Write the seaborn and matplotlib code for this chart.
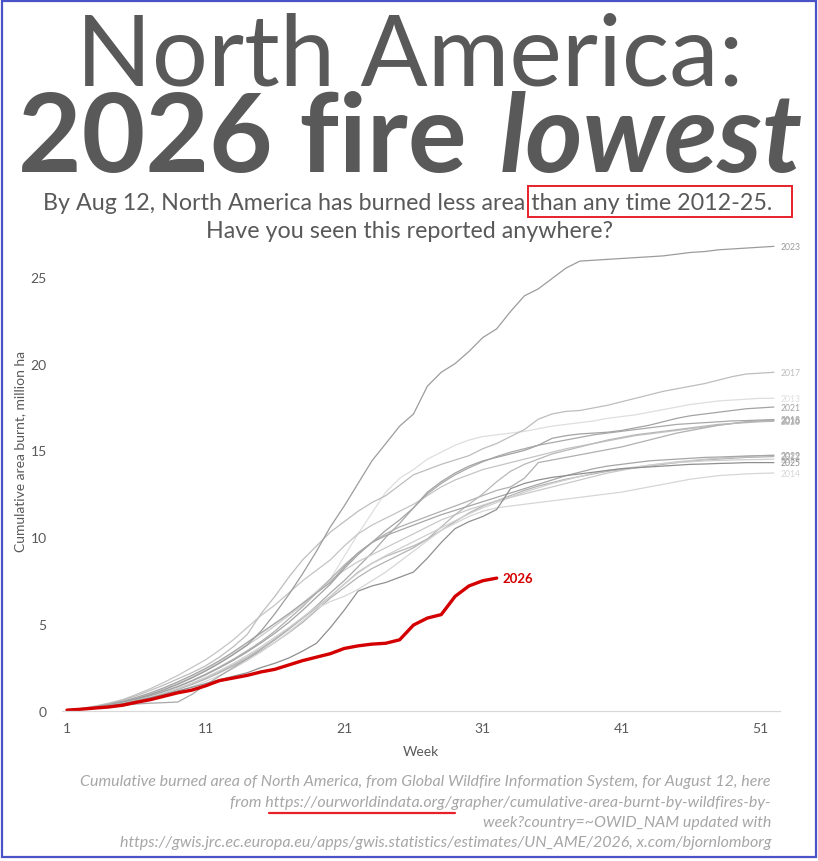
import matplotlib
matplotlib.use("Agg")
import matplotlib.pyplot as plt
import pandas as pd
import seaborn as sns
from matplotlib.patches import Rectangle
from matplotlib.lines import Line2D

# ---------------------------------------------------------------- data
weeks = list(range(1, 53))

area_2012 = [0.04, 0.1, 0.18, 0.29, 0.42, 0.58, 0.77, 0.99, 1.24, 1.52, 1.84, 2.2, 2.6, 3.0, 3.45, 3.95, 4.5, 5.1, 5.8, 6.5,
             7.1, 7.7, 8.2, 8.6, 9.0, 9.4, 9.9, 10.4, 10.9, 11.4, 11.8, 12.1, 12.4, 12.7, 12.95, 13.15, 13.35, 13.5, 13.65, 13.8,
             13.9, 14.0, 14.1, 14.2, 14.3, 14.38, 14.45, 14.5, 14.55, 14.6, 14.62, 14.65]
area_2013 = [0.05, 0.12, 0.22, 0.36, 0.54, 0.76, 1.02, 1.32, 1.65, 2.0, 2.4, 2.85, 3.35, 3.9, 4.45, 5.0, 5.6, 6.2, 6.9, 7.6,
             8.9, 10.2, 11.4, 12.6, 13.4, 13.9, 14.5, 14.9, 15.3, 15.6, 15.8, 15.9, 16.0, 16.1, 16.25, 16.4, 16.5, 16.6, 16.7, 16.85,
             16.95, 17.05, 17.2, 17.35, 17.5, 17.65, 17.75, 17.85, 17.9, 17.95, 18.0, 18.0]
area_2014 = [0.03, 0.08, 0.15, 0.25, 0.37, 0.52, 0.7, 0.9, 1.13, 1.4, 1.7, 2.05, 2.45, 2.9, 3.4, 3.95, 4.55, 5.2, 5.9, 6.3,
             6.6, 7.0, 7.5, 8.0, 8.6, 9.2, 9.8, 10.4, 10.8, 11.2, 11.5, 11.7, 11.8, 11.9, 12.0, 12.1, 12.2, 12.3, 12.4, 12.5,
             12.6, 12.75, 12.9, 13.05, 13.2, 13.35, 13.45, 13.55, 13.6, 13.65, 13.68, 13.7]
area_2015 = [0.06, 0.15, 0.28, 0.45, 0.65, 0.95, 1.28, 1.65, 2.05, 2.5, 2.95, 3.5, 4.1, 4.8, 5.5, 6.1, 6.8, 7.5, 8.1, 8.7,
             9.5, 10.2, 10.7, 11.1, 11.5, 11.9, 12.4, 12.9, 13.3, 13.6, 13.9, 14.1, 14.3, 14.5, 14.7, 14.9, 15.1, 15.25, 15.4, 15.55,
             15.7, 15.85, 15.95, 16.05, 16.15, 16.25, 16.35, 16.45, 16.55, 16.65, 16.7, 16.75]
area_2016 = [0.05, 0.12, 0.21, 0.33, 0.48, 0.66, 0.88, 1.13, 1.42, 1.75, 2.12, 2.53, 2.98, 3.47, 4.0, 4.6, 5.3, 6.0, 6.8, 7.6,
             8.4, 9.1, 9.7, 10.2, 10.6, 10.9, 11.2, 11.5, 11.8, 12.1, 12.4, 12.7, 12.9, 13.4, 14.3, 14.45, 14.6, 14.75, 14.9, 15.05,
             15.2, 15.4, 15.6, 15.8, 16.0, 16.15, 16.3, 16.45, 16.55, 16.65, 16.7, 16.72]
area_2017 = [0.06, 0.14, 0.26, 0.42, 0.62, 0.88, 1.18, 1.5, 1.85, 2.2, 2.6, 3.1, 3.7, 4.4, 5.6, 6.6, 7.7, 8.7, 9.5, 10.3,
             10.9, 11.5, 12.0, 12.4, 13.0, 13.6, 13.9, 14.2, 14.45, 14.7, 15.1, 15.4, 15.8, 16.2, 16.8, 17.1, 17.25, 17.3, 17.45, 17.6,
             17.8, 18.0, 18.2, 18.4, 18.55, 18.7, 18.85, 19.05, 19.25, 19.4, 19.45, 19.5]
area_2018 = [0.03, 0.09, 0.17, 0.26, 0.34, 0.4, 0.45, 0.48, 0.52, 0.95, 1.5, 2.0, 2.5, 3.0, 3.55, 4.1, 4.7, 5.35, 6.05, 6.8,
             7.5, 8.3, 9.1, 10.0, 10.8, 11.7, 12.5, 13.1, 13.6, 14.0, 14.35, 14.65, 14.9, 15.1, 15.3, 15.45, 15.6, 15.75, 15.9, 16.0,
             16.1, 16.2, 16.3, 16.4, 16.5, 16.55, 16.6, 16.65, 16.7, 16.72, 16.75, 16.78]
area_2019 = [0.05, 0.12, 0.22, 0.35, 0.52, 0.73, 0.98, 1.26, 1.58, 1.94, 2.34, 2.78, 3.26, 3.78, 4.32, 4.9, 5.5, 6.1, 6.8, 7.5,
             8.1, 8.6, 9.0, 9.4, 9.8, 10.2, 10.6, 11.0, 11.3, 11.6, 11.85, 12.1, 12.3, 12.5, 12.7, 12.9, 13.1, 13.3, 13.5, 13.7,
             13.85, 14.0, 14.15, 14.25, 14.35, 14.42, 14.5, 14.55, 14.6, 14.65, 14.7, 14.72]
area_2020 = [0.04, 0.1, 0.18, 0.29, 0.43, 0.6, 0.8, 1.03, 1.29, 1.58, 1.9, 2.26, 2.66, 3.1, 3.6, 4.15, 4.75, 5.35, 5.95, 6.6,
             7.3, 8.0, 8.5, 8.9, 9.2, 9.5, 9.9, 10.6, 11.3, 11.9, 12.5, 13.2, 13.8, 14.2, 14.5, 14.8, 15.0, 15.2, 15.4, 15.6,
             15.75, 15.9, 16.0, 16.1, 16.2, 16.3, 16.4, 16.5, 16.55, 16.6, 16.65, 16.68]
area_2021 = [0.04, 0.11, 0.2, 0.32, 0.47, 0.65, 0.87, 1.12, 1.4, 1.72, 2.08, 2.48, 2.92, 3.4, 3.92, 4.48, 5.1, 5.8, 6.55, 7.3,
             8.2, 9.0, 9.7, 10.4, 11.0, 11.7, 12.6, 13.2, 13.7, 14.1, 14.4, 14.6, 14.8, 15.0, 15.3, 15.7, 15.85, 15.95, 16.0, 16.05,
             16.15, 16.3, 16.45, 16.65, 16.85, 17.0, 17.1, 17.2, 17.3, 17.4, 17.45, 17.5]
area_2022 = [0.05, 0.13, 0.24, 0.38, 0.56, 0.78, 1.04, 1.34, 1.68, 2.05, 2.45, 2.9, 3.4, 3.95, 4.5, 5.05, 5.6, 6.2, 6.8, 7.4,
             8.3, 9.1, 9.7, 10.1, 10.4, 10.7, 11.0, 11.3, 11.55, 11.8, 12.05, 12.3, 12.55, 12.8, 13.05, 13.3, 13.55, 13.75, 13.95, 14.1,
             14.2, 14.3, 14.4, 14.45, 14.5, 14.55, 14.6, 14.62, 14.65, 14.68, 14.7, 14.72]
area_2023 = [0.05, 0.12, 0.22, 0.34, 0.5, 0.7, 0.94, 1.22, 1.54, 1.9, 2.3, 2.75, 3.25, 3.8, 4.6, 5.6, 6.7, 7.9, 9.2, 10.6,
             11.8, 13.1, 14.4, 15.4, 16.4, 17.1, 18.7, 19.5, 20.0, 20.7, 21.5, 22.0, 23.0, 23.9, 24.3, 24.9, 25.5, 25.9, 25.95, 26.0,
             26.05, 26.1, 26.15, 26.2, 26.3, 26.4, 26.45, 26.55, 26.6, 26.65, 26.7, 26.75]
area_2024 = [0.04, 0.1, 0.19, 0.3, 0.44, 0.61, 0.81, 1.04, 1.3, 1.6, 1.94, 2.32, 2.74, 3.2, 3.7, 4.25, 4.8, 5.4, 6.0, 6.6,
             7.3, 7.95, 8.5, 8.95, 9.35, 9.75, 10.15, 10.55, 10.95, 11.35, 11.7, 12.0, 12.3, 12.6, 12.85, 13.1, 13.3, 13.5, 13.7, 13.85,
             13.95, 14.05, 14.15, 14.25, 14.3, 14.35, 14.4, 14.42, 14.45, 14.47, 14.48, 14.5]
area_2025 = [0.05, 0.11, 0.19, 0.29, 0.42, 0.58, 0.76, 0.96, 1.16, 1.36, 1.58, 1.8, 2.0, 2.2, 2.5, 2.75, 3.05, 3.45, 3.9, 4.8,
             5.8, 6.9, 7.2, 7.4, 7.7, 8.0, 8.8, 9.7, 10.5, 10.9, 11.2, 11.6, 12.8, 13.1, 13.3, 13.45, 13.55, 13.65, 13.75, 13.85,
             13.95, 14.0, 14.05, 14.1, 14.15, 14.2, 14.22, 14.25, 14.27, 14.3, 14.3, 14.3]

# 2026 only runs to week 32 (Aug 12)
area_2026 = [0.05, 0.1, 0.17, 0.23, 0.33, 0.5, 0.65, 0.85, 1.05, 1.2, 1.45, 1.75, 1.9, 2.05, 2.25, 2.4, 2.65, 2.9, 3.1, 3.3,
             3.6, 3.75, 3.85, 3.9, 4.1, 4.95, 5.35, 5.55, 6.6, 7.2, 7.5, 7.65]

past_years = {
    "2012": area_2012, "2013": area_2013, "2014": area_2014, "2015": area_2015,
    "2016": area_2016, "2017": area_2017, "2018": area_2018, "2019": area_2019,
    "2020": area_2020, "2021": area_2021, "2022": area_2022, "2023": area_2023,
    "2024": area_2024, "2025": area_2025,
}

year_colors = {
    "2012": "#b3b3b3", "2013": "#dedede", "2014": "#d6d6d6", "2015": "#c4c4c4",
    "2016": "#b0b0b0", "2017": "#bdbdbd", "2018": "#a8a8a8", "2019": "#c9c9c9",
    "2020": "#b8b8b8", "2021": "#a3a3a3", "2022": "#a6a6a6", "2023": "#9c9c9c",
    "2024": "#cfcfcf", "2025": "#8f8f8f",
}

x_ticks = [1, 11, 21, 31, 41, 51]
y_ticks = [0, 5, 10, 15, 20, 25]

title_line1 = "North America:"
title_bold = "2026 fire"
title_italic = "lowest"
sub_plain = "By Aug 12, North America has burned less area "
sub_boxed = "than any time 2012-25."
sub_line2 = "Have you seen this reported anywhere?"
caption_lines = [
    "Cumulative burned area of North America, from Global Wildfire Information System, for August 12, here",
    "from https://ourworldindata.org/grapher/cumulative-area-burnt-by-wildfires-by-",
    "week?country=~OWID_NAM updated with",
    "https://gwis.jrc.ec.europa.eu/apps/gwis.statistics/estimates/UN_AME/2026, x.com/bjornlomborg",
]
underlined = "https://ourworldindata.org/"

TEXT = "#595959"
RED = "#d40000"
W, H = 818, 862

# ---------------------------------------------------------------- style
sns.set_theme(style="white")
plt.rcParams["font.family"] = ["Lato", "DejaVu Sans"]

fig = plt.figure(figsize=(W / 100, H / 100), dpi=100)
renderer = fig.canvas.get_renderer()


def fx(px):
    return px / W


def fy(py):
    return 1 - py / H


def text_width(s, **kw):
    t = fig.text(0, 0, s, **kw)
    w = t.get_window_extent(renderer).width
    t.remove()
    return w


def fit(txt, target_px):
    for _ in range(2):
        w = txt.get_window_extent(renderer).width
        txt.set_fontsize(txt.get_fontsize() * target_px / w)


# ---------------------------------------------------------------- chart
ax = fig.add_axes([fx(62), fy(712), fx(780) - fx(62), fy(243) - fy(712)])

long_df = pd.DataFrame(
    [(yr, wk, v) for yr, vals in past_years.items() for wk, v in zip(weeks, vals)],
    columns=["year", "week", "area"],
)

sns.lineplot(
    data=long_df, x="week", y="area", hue="year",
    palette=year_colors, linewidth=0.9, legend=False, ax=ax,
)

df_2026 = pd.DataFrame({"week": weeks[:len(area_2026)], "area": area_2026})
sns.lineplot(data=df_2026, x="week", y="area", color=RED, linewidth=2.4, ax=ax)

for yr, vals in past_years.items():
    ax.text(weeks[-1] + 0.45, vals[-1], yr, fontsize=6.2, color=year_colors[yr],
            va="center", ha="left", clip_on=False)

ax.text(len(area_2026) + 0.4, area_2026[-1], "2026", fontsize=9.5, color=RED,
        fontweight="bold", va="center", ha="left")

ax.set_xlim(0.64, 52.44)
ax.set_ylim(0, 27)
ax.set_xticks(x_ticks)
ax.set_yticks(y_ticks)
ax.tick_params(axis="both", length=0, labelsize=10, colors=TEXT)
ax.tick_params(axis="x", pad=8)
ax.tick_params(axis="y", pad=11)

for side in ["top", "right", "left"]:
    ax.spines[side].set_visible(False)
ax.spines["bottom"].set_color("#d9d9d9")
ax.spines["bottom"].set_linewidth(0.9)

ax.set_xlabel("Week", fontsize=10, color=TEXT)
ax.xaxis.set_label_coords(0.5, -0.085)
ax.xaxis.label.set_va("center")
ax.set_ylabel("Cumulative area burnt, million ha", fontsize=10, color=TEXT)
ax.yaxis.set_label_coords((20 - 62) / 718, (712 - 452) / 469)
ax.yaxis.label.set_va("center")

# ---------------------------------------------------------------- titles
t1 = fig.text(fx(410), fy(85), title_line1, ha="center", va="baseline",
              fontsize=80, color=TEXT)
fit(t1, 668)

t2a = fig.text(fx(18), fy(172), title_bold, ha="left", va="baseline",
               fontsize=80, color=TEXT, fontweight="bold")
t2b = fig.text(0, fy(172), title_italic, ha="left", va="baseline",
               fontsize=80, color=TEXT, fontweight="bold", fontstyle="italic")
for _ in range(2):
    wa = t2a.get_window_extent(renderer).width
    wb = t2b.get_window_extent(renderer).width
    gap = 0.3 * t2a.get_fontsize() * 100 / 72
    scale = 785 / (wa + wb + gap)
    t2a.set_fontsize(t2a.get_fontsize() * scale)
    t2b.set_fontsize(t2b.get_fontsize() * scale)
wa = t2a.get_window_extent(renderer).width
gap = 0.3 * t2a.get_fontsize() * 100 / 72
t2b.set_x(fx(18 + wa + gap))

s1 = fig.text(fx(408), fy(210), sub_plain + sub_boxed, ha="center", va="baseline",
              fontsize=16, color=TEXT)
fit(s1, 728)
sub_size = s1.get_fontsize()
fig.text(fx(409), fy(238), sub_line2, ha="center", va="baseline",
         fontsize=sub_size, color=TEXT)

full_w = s1.get_window_extent(renderer).width
box_left = 408 - full_w / 2 + text_width(sub_plain.rstrip(), fontsize=sub_size) + 2
fig.patches.append(Rectangle((fx(box_left), fy(218)), fx(792) - fx(box_left), fy(187) - fy(218),
                             transform=fig.transFigure, fill=False, ec="#e8202a", lw=1.4))

# ---------------------------------------------------------------- caption
cap_y = [782, 803, 823, 843]
cap_texts = []
for line, y in zip(caption_lines, cap_y):
    cap_texts.append(fig.text(fx(771), fy(y), line, ha="right", va="center",
                              fontsize=10, color="#a6a6a6", fontstyle="italic"))
fit(cap_texts[0], 691)
cap_size = cap_texts[0].get_fontsize()
for t in cap_texts[1:]:
    t.set_fontsize(cap_size)

line2_w = cap_texts[1].get_window_extent(renderer).width
u_start = 771 - line2_w + text_width("from ", fontsize=cap_size, fontstyle="italic") + 3
u_end = u_start + text_width(underlined, fontsize=cap_size, fontstyle="italic")
fig.lines.append(Line2D([fx(u_start), fx(u_end)], [fy(814), fy(814)],
                        transform=fig.transFigure, color="#e8202a", lw=1.6))

# frame round the whole picture
fig.patches.append(Rectangle((fx(1.5), fy(858)), fx(814), fy(1.5) - fy(858),
                             transform=fig.transFigure, fill=False, ec="#4a52c8", lw=1.6))

fig.savefig("out.png", dpi=100)
